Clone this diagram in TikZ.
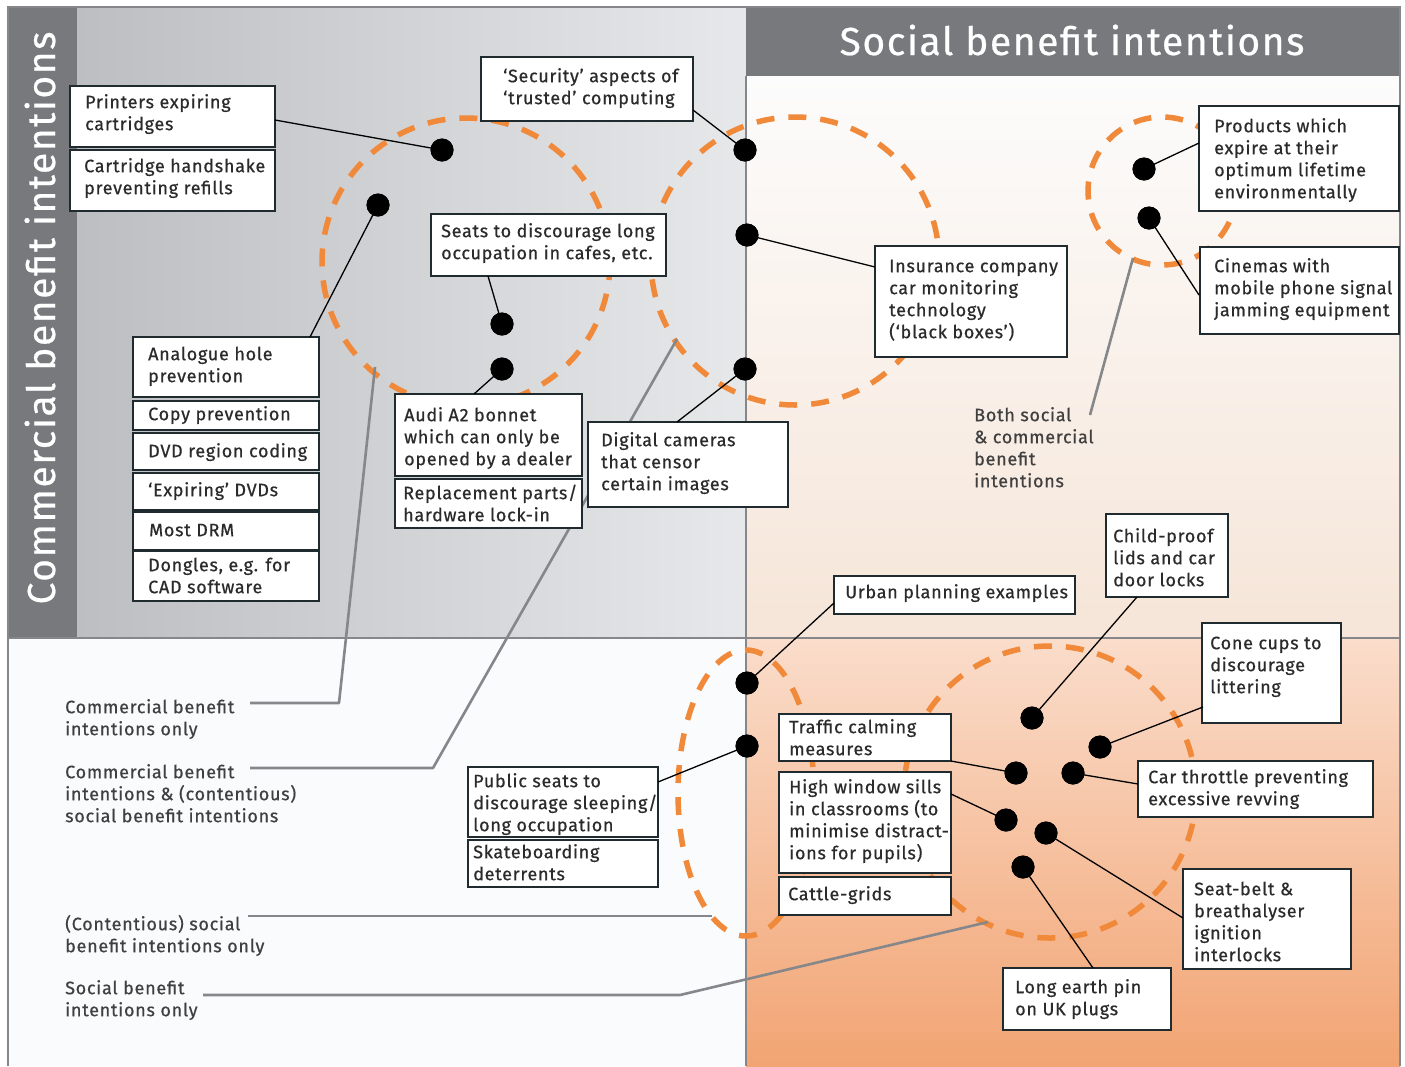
\documentclass[tikz,border=0pt]{standalone}
\usepackage{fontspec}
\setmainfont{Fira Sans}[LetterSpace=4, FakeBold=0.6]
\usetikzlibrary{calc}

\definecolor{band}{HTML}{77797C}
\definecolor{tlL}{HTML}{BDBEC1}
\definecolor{tlR}{HTML}{E7E8EA}
\definecolor{trT}{HTML}{FCFCFC}
\definecolor{trB}{HTML}{F6E5D8}
\definecolor{blc}{HTML}{FAFBFD}
\definecolor{brT}{HTML}{FADDCB}
\definecolor{brB}{HTML}{F2A473}
\definecolor{divgray}{HTML}{85878A}
\definecolor{orng}{HTML}{F0893A}
\definecolor{boxline}{HTML}{1F2B2E}
\definecolor{txt}{HTML}{2B2B2B}

% box: name, x1, y1, x2, y2, first-baseline x, first-baseline y, text
\newcommand{\bx}[8]{%
  \node[boxst, minimum width={#4-#2}, minimum height={#5-#3}] (#1) at (#2,#3) {};
  \node[boxtxt] at (#6,#7-15.4) {\strut #8};
}

\begin{document}
\begin{tikzpicture}[x=1pt,y=-1pt,
  boxst/.style={draw=boxline, line width=2.4pt, fill=white, inner sep=0pt, outer sep=0pt, rectangle, anchor=north west},
  boxtxt/.style={anchor=north west, align=left, inner sep=0pt, font=\fontsize{18}{22}\selectfont, text=txt},
  plain/.style={anchor=north west, align=left, inner sep=0pt, font=\fontsize{18}{22}\selectfont, text=txt!90},
  lead/.style={draw=black, line width=1.3pt},
  glead/.style={draw=divgray, line width=2.6pt, line join=round},
  ring/.style={draw=orng, line width=5.5pt, dash pattern=on 18pt off 14pt},
  dot/.style={circle, fill=black, minimum size=23pt, inner sep=0pt},
  divline/.style={draw=divgray, line width=2.8pt},
  title/.style={text=white, inner sep=0pt, font=\fontsize{39}{44}\selectfont}
]
\useasboundingbox (0,0) rectangle (1405,1066);
\fill[white] (0,0) rectangle (1405,1066);

% quadrants
\shade[left color=tlL, right color=tlR] (77,8) rectangle (746,638);
\fill[band] (8,8) rectangle (77,638);
\fill[band] (746,8) rectangle (1400,76);
\shade[top color=trT, bottom color=trB] (746,76) rectangle (1400,638);
\fill[blc] (8,638) rectangle (746,1066);
\shade[top color=brT, bottom color=brB] (746,638) rectangle (1400,1066);

% dividers and frame
\draw[divline] (746,76) -- (746,1066);
\draw[divline] (8,638) -- (1400,638);
\draw[divline] (8,1066) -- (8,7) -- (1400,7) -- (1400,1066);

% headings
\node[title, rotate=90, anchor=base] (hcom) at (55,318) {Commercial benefit intentions};
\node[title, anchor=base] (hsoc) at (1072,55) {Social benefit intentions};

% dashed groupings
\draw[ring] (466,262) circle (144);
\draw[ring] (795,261) circle (144);
\draw[ring] (1162,191) circle (74);
\draw[ring] (746,793) ellipse (68 and 143);
\draw[ring] (1050,792) circle (146);

% category labels
\node[plain] (lco) at (65,713-15.4) {\strut Commercial benefit\\intentions only};
\node[plain] (lcc) at (65,778-15.4) {\strut Commercial benefit\\intentions \& (contentious)\\social benefit intentions};
\node[plain] (lcs) at (65,930-15.4) {\strut (Contentious) social\\benefit intentions only};
\node[plain] (lso) at (65,994-15.4) {\strut Social benefit\\intentions only};
\node[plain] (lbo) at (974,421-15.4) {\strut Both social\\\& commercial\\benefit\\intentions};

% category pointers
\coordinate (p1) at (375,367);
\coordinate (p2) at (677,339);
\coordinate (p3) at (712,916);
\coordinate (p4) at (988,922);
\coordinate (p5) at (1133,258);
\draw[glead] (250,703) -- (339,703) -- (p1);
\draw[glead] (250,768) -- (433,768) -- (p2);
\draw[glead] (248,916) -- (p3);
\draw[glead] (203,995) -- (680,995) -- (p4);
\draw[glead] (1090,415) -- (p5);

% example dots
\node[dot] (d1) at (442,150) {};
\node[dot] (d2) at (378,205) {};
\node[dot] (d3) at (745,150) {};
\node[dot] (d4) at (747,235) {};
\node[dot] (d5) at (502,324) {};
\node[dot] (d6) at (502,369) {};
\node[dot] (d7) at (745,369) {};
\node[dot] (d8) at (1144,169) {};
\node[dot] (d9) at (1149,218) {};
\node[dot] (d10) at (747,683) {};
\node[dot] (d11) at (747,746) {};
\node[dot] (d12) at (1032,718) {};
\node[dot] (d13) at (1100,747) {};
\node[dot] (d14) at (1016,773) {};
\node[dot] (d15) at (1073,773) {};
\node[dot] (d16) at (1006,820) {};
\node[dot] (d17) at (1046,833) {};
\node[dot] (d18) at (1023,867) {};

% example boxes
\bx{pr}{70}{86}{275}{147}{85}{108}{Printers expiring\\cartridges}
\bx{ch}{70}{150}{275}{211}{84}{172}{Cartridge handshake\\preventing refills}
\bx{sec}{481}{57}{693}{121}{503}{82}{‘Security’ aspects of\\‘trusted’ computing}
\bx{seat}{431}{214}{666}{276}{441}{237}{Seats to discourage long\\occupation in cafes, etc.}
\bx{ana}{133}{337}{319}{397}{148}{360}{Analogue hole\\prevention}
\bx{copy}{133}{401}{319}{430}{148}{420}{Copy prevention}
\bx{dvd}{133}{433}{319}{470}{148}{457}{DVD region coding}
\bx{exp}{133}{473}{319}{510}{148}{496}{‘Expiring’ DVDs}
\bx{drm}{133}{512}{319}{550}{149}{536}{Most DRM}
\bx{dng}{133}{551}{319}{601}{148}{571}{Dongles, e.g. for\\CAD software}
\bx{audi}{395}{394}{582}{476}{404}{421}{Audi A2 bonnet\\which can only be\\opened by a dealer}
\bx{rep}{395}{479}{582}{528}{403}{499}{Replacement parts/\\hardware lock-in}
\bx{dig}{588}{422}{788}{507}{601}{446}{Digital cameras\\that censor\\certain images}
\bx{ins}{875}{246}{1067}{357}{889}{272}{Insurance company\\car monitoring\\technology\\(‘black boxes’)}
\bx{prod}{1199}{106}{1399}{211}{1214}{132}{Products which\\expire at their\\optimum lifetime\\environmentally}
\bx{cin}{1200}{247}{1399}{334}{1214}{272}{Cinemas with\\mobile phone signal\\jamming equipment}
\bx{child}{1106}{514}{1228}{597}{1113}{542}{Child-proof\\lids and car\\door locks}
\bx{urb}{834}{576}{1075}{614}{845}{598}{Urban planning examples}
\bx{cone}{1202}{623}{1341}{723}{1210}{649}{Cone cups to\\discourage\\littering}
\bx{thr}{1138}{761}{1373}{817}{1148}{783}{Car throttle preventing\\excessive revving}
\bx{sb}{1183}{869}{1351}{969}{1194}{895}{Seat-belt \&\\breathalyser\\ignition\\interlocks}
\bx{ep}{1003}{968}{1171}{1030}{1015}{993}{Long earth pin\\on UK plugs}
\bx{tc}{779}{714}{951}{761}{789}{733}{Traffic calming\\measures}
\bx{hw}{779}{772}{951}{873}{789}{793}{High window sills\\in classrooms (to\\minimise distract-\\ions for pupils)}
\bx{cg}{779}{877}{951}{915}{788}{900}{Cattle-grids}
\bx{ps}{468}{767}{658}{837}{473}{787}{Public seats to\\discourage sleeping/\\long occupation}
\bx{sk}{468}{840}{658}{887}{473}{858}{Skateboarding\\deterrents}

% leaders from boxes to dots
\draw[lead] ($(pr.north west)+(205,34)$) -- (d1.center);
\draw[lead] ($(ana.north west)+(177,0)$) -- (d2.center);
\draw[lead] ($(sec.north west)+(212,53)$) -- (d3.center);
\draw[lead] ($(ins.north west)+(0,21)$) -- (d4.center);
\draw[lead] ($(seat.north west)+(57,62)$) -- (d5.center);
\draw[lead] ($(audi.north west)+(79,0)$) -- (d6.center);
\draw[lead] ($(dig.north west)+(89,0)$) -- (d7.center);
\draw[lead] ($(prod.north west)+(0,37)$) -- (d8.center);
\draw[lead] ($(cin.north west)+(-1,48)$) -- (d9.center);
\draw[lead] ($(urb.north west)+(0,27)$) -- (d10.center);
\draw[lead] ($(ps.north west)+(190,15)$) -- (d11.center);
\draw[lead] ($(child.north west)+(31,83)$) -- (d12.center);
\draw[lead] ($(cone.north west)+(1,84)$) -- (d13.center);
\draw[lead] ($(tc.north west)+(172,47)$) -- (d14.center);
\draw[lead] ($(thr.north west)+(0,23)$) -- (d15.center);
\draw[lead] ($(hw.north west)+(172,22)$) -- (d16.center);
\draw[lead] ($(sb.north west)+(0,49)$) -- (d17.center);
\draw[lead] ($(ep.north west)+(90,0)$) -- (d18.center);

% dots above their leaders
\foreach \d in {d1,d2,d3,d4,d5,d6,d7,d8,d9,d10,d11,d12,d13,d14,d15,d16,d17,d18}
  \fill[black] (\d) circle (11.5);
\end{tikzpicture}
\end{document}
